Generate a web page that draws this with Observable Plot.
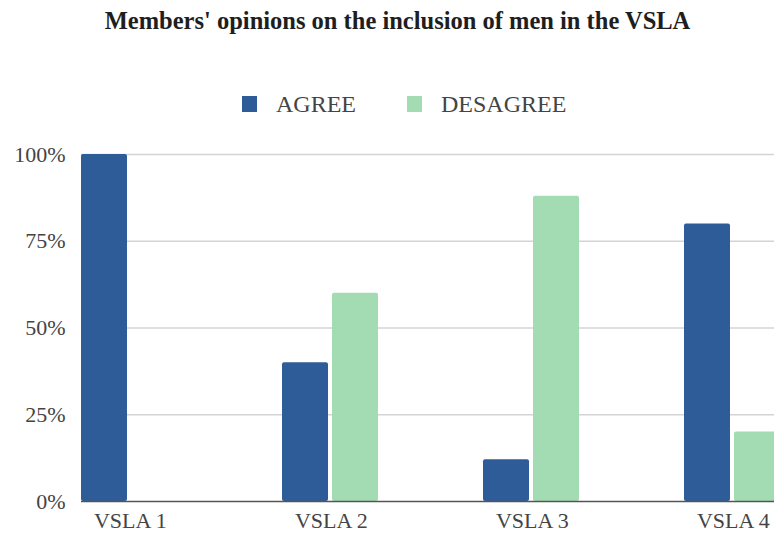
<!DOCTYPE html>
<html>
<head>
<meta charset="utf-8">
<script src="https://cdn.jsdelivr.net/npm/d3@7"></script>
<script src="https://cdn.jsdelivr.net/npm/@observablehq/plot@0.6"></script>
<style>
  html, body { margin: 0; padding: 0; background: #fff; overflow: hidden; }
  #chart { position: relative; width: 774px; height: 535px; font-family: "Liberation Serif", "Times New Roman", serif; }
  #title { position: absolute; left: 0; top: 9px; width: 774px; padding-left: 21px; box-sizing: border-box;
           text-align: center; font-size: 24.5px; line-height: 24px; font-weight: bold; color: #1e1e1e; }
  #legend { position: absolute; left: 242px; top: 92px; display: flex; align-items: center; font-size: 24px; line-height: 24px; color: #444; }
  #legend .sw { width: 15px; height: 16px; margin-right: 19px; }
  #legend .item { display: flex; align-items: center; margin-right: 51px; }
  #plot { position: absolute; left: 0; top: 130px; }
  #plot svg, #plot svg text { font-family: "Liberation Serif", "Times New Roman", serif !important; }
</style>
</head>
<body>
<div id="chart">
  <div id="title"></div>
  <div id="legend"></div>
  <div id="plot"></div>
</div>
<script>
// Survey of VSLA members: share who agree / disagree with including men
const title = "Members' opinions on the inclusion of men in the VSLA";
const groups = ["VSLA 1", "VSLA 2", "VSLA 3", "VSLA 4"];
const seriesNames = ["AGREE", "DESAGREE"];
const agree = [100, 40, 12, 80];
const desagree = [0, 60, 88, 20];
const yTicks = [0, 25, 50, 75, 100];
const colors = ["#2e5c99", "#a3dcb3"];
const serif = "'Liberation Serif', 'Times New Roman', serif";

// Long-format table for the grouped bars
const rows = [];
groups.forEach((g, i) => {
  rows.push({group: g, series: seriesNames[0], value: agree[i]});
  rows.push({group: g, series: seriesNames[1], value: desagree[i]});
});

document.getElementById("title").textContent = title;

const legend = document.getElementById("legend");
seriesNames.forEach((s, i) => {
  const item = document.createElement("div");
  item.className = "item";
  const sw = document.createElement("div");
  sw.className = "sw";
  sw.style.background = colors[i];
  const label = document.createElement("span");
  label.textContent = s;
  item.appendChild(sw);
  item.appendChild(label);
  legend.appendChild(item);
});

// Each group band is 201.3px wide; the pair of bars sits at the left of its band
// so that the last group runs past the right edge of the frame.
const bandWidth = 201.3;
const pairWidth = 98;
const chart = Plot.plot({
  width: 774,
  height: 405,
  marginTop: 24,
  marginBottom: 34,
  marginLeft: 80,
  marginRight: 0,
  style: {fontFamily: serif, color: "#444", background: "#fff", overflow: "hidden"},
  fx: {domain: groups, range: [80, 80 + bandWidth * groups.length], padding: 0, axis: null, label: null},
  x: {domain: seriesNames, paddingInner: 0.078, paddingOuter: 1.013, align: 0, axis: null},
  y: {domain: [0, 100], axis: null},
  color: {domain: seriesNames, range: colors},
  marks: [
    Plot.ruleY(yTicks.slice(1), {stroke: "#d4d4d4", strokeWidth: 1.3}),
    Plot.barY(rows, {fx: "group", x: "series", y: "value", fill: "series", rx: 2}),
    Plot.ruleY([0], {stroke: "#555", strokeWidth: 1.3}),
    Plot.axisY({ticks: yTicks, tickFormat: d => d + "%", tickSize: 0, tickPadding: 16, fontSize: 22, fontFamily: serif, label: null}),
    // group labels sit under the centre of each bar pair
    Plot.axisFx({anchor: "bottom", tickSize: 0, tickPadding: 11, fontSize: 22, fontFamily: serif, dx: pairWidth / 2 - bandWidth / 2, label: null})
  ]
});
document.getElementById("plot").appendChild(chart);
</script>
</body>
</html>
